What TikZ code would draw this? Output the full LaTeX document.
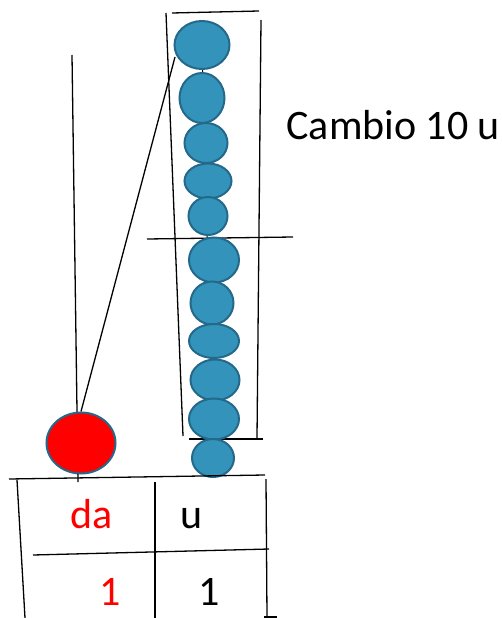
\documentclass[tikz,border=0pt]{standalone}
\usepackage{fontspec}
\setmainfont{Carlito}
\usetikzlibrary{shapes.geometric}
\definecolor{beadfill}{RGB}{52,147,186}
\definecolor{beadline}{RGB}{36,104,138}
\definecolor{tenred}{RGB}{255,0,0}
\begin{document}
\begin{tikzpicture}[x=1pt,y=-1pt,
  rule/.style={line width=1.3pt,black},
  bead/.style={ellipse,draw=beadline,fill=beadfill,line width=2pt,inner sep=0pt},
  big/.style={font=\fontsize{42}{50}\selectfont}]
\useasboundingbox (0,0) rectangle (502,618);

% rod of the tens column
\coordinate (rodtop) at (72,55);
\coordinate (rodbot) at (78,482);
\draw[rule] (rodtop) -- (rodbot);

% frame around the ten units being exchanged
\coordinate (ftl) at (166,13);
\coordinate (ftl2) at (172,13);
\coordinate (ftr) at (259,11);
\coordinate (frt) at (261,20);
\coordinate (frb) at (257,438);
\coordinate (flb) at (183,436);
\coordinate (fbl) at (189,439);
\coordinate (fbr) at (263,439);
\coordinate (ml) at (147,239);
\coordinate (mr) at (293,237);
\draw[rule] (ftl2) -- (ftr);
\draw[rule] (ftl) -- (flb);
\draw[rule] (frt) -- (frb);
\draw[rule] (fbl) -- (fbr);
\draw[rule] (ml) -- (mr);

% string holding the unit beads
\coordinate (strtop) at (202,45);
\coordinate (strbot) at (213,458);
\draw[line width=1pt] (strtop) -- (strbot);

% unit beads
\node[bead,minimum width=55pt,minimum height=48pt] (b1) at (202,45) {};
\node[bead,minimum width=45pt,minimum height=50pt] (b2) at (202,98) {};
\node[bead,minimum width=43pt,minimum height=40pt] (b3) at (206,143) {};
\node[bead,minimum width=47pt,minimum height=35pt] (b4) at (208,181) {};
\node[bead,minimum width=39pt,minimum height=38pt] (b5) at (208,216) {};
\node[bead,minimum width=50pt,minimum height=45pt] (b6) at (214,260) {};
\node[bead,minimum width=43pt,minimum height=43pt] (b7) at (212,303) {};
\node[bead,minimum width=50pt,minimum height=34pt] (b8) at (214,341) {};
\node[bead,minimum width=49pt,minimum height=41pt] (b9) at (215,380) {};
\node[bead,minimum width=50pt,minimum height=41pt] (b10) at (214,419) {};
\node[bead,minimum width=42pt,minimum height=38pt] (b11) at (213,458) {};

% red bead of the tens column
\node[bead,fill=tenred,minimum width=69pt,minimum height=61pt] (ten) at (81,443) {};

% exchange line from the frame to the red bead
\coordinate (xfrom) at (175,57);
\draw[rule] (xfrom) -- (ten.north);

\node[big,anchor=base west] (cambio) at (283,139) {Cambio 10 u};

% place-value table
\coordinate (ttl) at (9,479);
\coordinate (ttr) at (265,475);
\coordinate (tl1) at (17,480);
\coordinate (tl2) at (25,618);
\coordinate (tm1) at (155,482);
\coordinate (tm2) at (155,618);
\coordinate (tr1) at (266,479);
\coordinate (tr2) at (267,617);
\coordinate (th1) at (33,555);
\coordinate (th2) at (269,549);
\coordinate (tb1) at (264,617);
\coordinate (tb2) at (277,617);
\draw[rule] (ttl) -- (ttr);
\draw[rule] (tl1) -- (tl2);
\draw[rule] (tm1) -- (tm2);
\draw[rule] (tr1) -- (tr2);
\draw[rule] (th1) -- (th2);
\draw[rule] (tb1) -- (tb2);

\node[big,text=tenred,anchor=base] (da) at (92,528) {da};
\node[big,anchor=base] (u) at (192,528) {u};
\node[big,text=tenred,anchor=base] (dn) at (110,605) {1};
\node[big,anchor=base] (un) at (209,605) {1};
\end{tikzpicture}
\end{document}
